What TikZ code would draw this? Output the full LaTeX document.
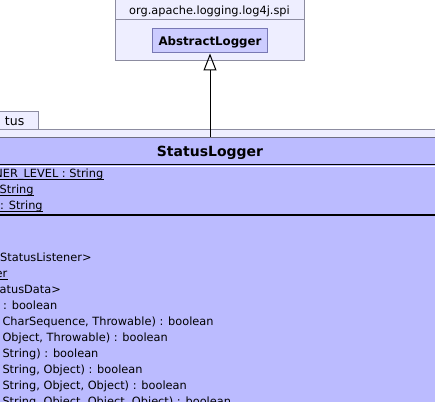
\documentclass[tikz,border=0pt]{standalone}
\usepackage{fontspec}
\setmainfont{DejaVu Sans}
\usetikzlibrary{arrows.meta}
\definecolor{pkgfill}{RGB}{238,238,255}
\definecolor{pkgline}{RGB}{140,140,160}
\definecolor{absfill}{RGB}{204,204,255}
\definecolor{absline}{RGB}{120,120,180}
\definecolor{clsfill}{RGB}{187,187,255}
\definecolor{clsline}{RGB}{110,110,130}
\tikzset{
  pkgbox/.style={draw=pkgline, fill=pkgfill, line width=1pt, inner sep=0pt},
  absbox/.style={draw=absline, fill=absfill, line width=1pt, inner sep=0pt},
  clsbox/.style={draw=clsline, fill=clsfill, line width=1pt, inner sep=0pt},
  txt/.style={inner sep=0pt, font=\fontsize{11.35}{13}\selectfont},
  tabtxt/.style={inner sep=0pt, font=\fontsize{12.5}{14}\selectfont},
  boldtxt/.style={inner sep=0pt, font=\fontsize{11.8}{14}\selectfont\bfseries},
  titletxt/.style={inner sep=0pt, font=\fontsize{14}{16}\selectfont\bfseries},
  uline/.style={line width=0.9pt, black},
  gen/.style={line width=1pt, -{Triangle[open, length=17pt, width=13pt, line width=1pt]}}
}
\newcommand{\ul}[1]{\draw[uline] ([yshift=-2.4pt]#1.base west) -- ([yshift=-2.4pt]#1.base east);}
\begin{document}
\begin{tikzpicture}[x=1pt,y=-1pt]
\useasboundingbox (0,0) rectangle (435,401);
\begin{scope}
\clip (0,0) rectangle (435,401);
% upper package
\node[pkgbox, minimum width=189pt, minimum height=62pt] (spi) at (209.5,30) {};
\draw[pkgline, line width=1pt] (115,20) -- (304,20);
\node[txt, anchor=base] (spiname) at (209.5,14.5) {org.apache.logging.log4j.spi};
\node[absbox, minimum width=115pt, minimum height=24pt] (al) at (210,41) {};
\node[boldtxt, anchor=base] (altitle) at (210,46) {AbstractLogger};
% lower package
\node[pkgbox, minimum width=60pt, minimum height=18pt] (tab) at (8,120) {};
\node[tabtxt, anchor=base east] (tabname) at (24.5,125) {tus};
\node[pkgbox, minimum width=500pt, minimum height=320pt] (pkg) at (210,289) {};
% class
\node[clsbox, minimum width=470pt, minimum height=300pt] (sl) at (210,287.5) {};
\node[titletxt, anchor=base] (sltitle) at (210,156) {StatusLogger};
\draw[black, line width=1pt] (-25,164) -- (445,164);
\draw[white, line width=0.8pt] (-25,166) -- (445,166);
\draw[black, line width=2pt] (-25,215) -- (445,215);
% attributes
\node[txt, anchor=base east] (a1) at (103.5,177.5) {NER\_LEVEL : String}; \ul{a1}
\node[txt, anchor=base west] (a2) at (-0.5,193.5) {String}; \ul{a2}
\node[txt, anchor=base west] (a3) at (0,209.5) {: String}; \ul{a3}
% methods
\node[txt, anchor=base west] (m3) at (0,261) {StatusListener>};
\node[txt, anchor=base east] (m4) at (7.5,277) {er}; \ul{m4}
\node[txt, anchor=base west] (m5) at (-0.5,293) {atusData>};
\node[txt, anchor=base west] (m6) at (3,309) {: boolean};
\node[txt, anchor=base west] (m7) at (2.3,325) {CharSequence, Throwable) : boolean};
\node[txt, anchor=base west] (m8) at (2.3,341) {Object, Throwable) : boolean};
\node[txt, anchor=base west] (m9) at (2.3,357) {String) : boolean};
\node[txt, anchor=base west] (m10) at (2.3,373) {String, Object) : boolean};
\node[txt, anchor=base west] (m11) at (2.3,389) {String, Object, Object) : boolean};
\node[txt, anchor=base west] (m12) at (2.3,405) {String, Object, Object, Object) : boolean};
% generalization
\draw[gen] (sl.north) -- (al.south);
\end{scope}
\end{tikzpicture}
\end{document}
